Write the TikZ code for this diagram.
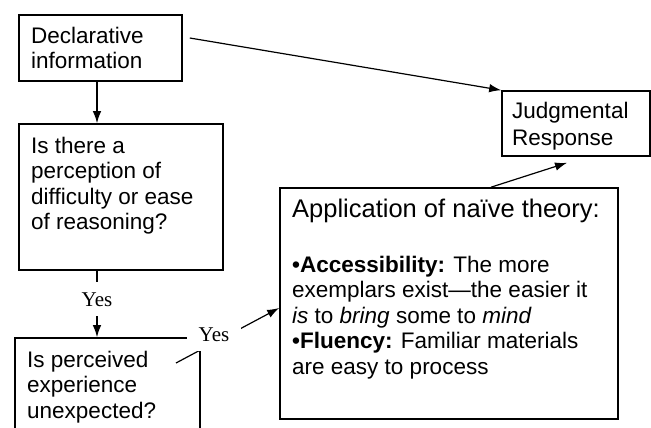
\documentclass[tikz,border=0pt]{standalone}
\usepackage{fontspec}
\setmainfont{Liberation Sans}
\newfontfamily\yesfont{Liberation Serif}
\usetikzlibrary{arrows.meta}
\tikzset{
  box/.style={draw, line width=1.6pt, inner sep=0pt},
  txt/.style={anchor=north west, inner sep=0pt, align=left, font=\fontsize{22.5}{25.5}\selectfont},
  arr/.style={line width=1.2pt, -{Latex[length=12pt,width=8.5pt]}},
  yes/.style={fill=white, font=\yesfont\fontsize{21}{22}\selectfont, text height=14pt, text depth=0pt, inner xsep=12pt, inner ysep=10pt},
}
\begin{document}
\begin{tikzpicture}[x=1pt,y=-1pt]
\clip (0,0) rectangle (651,428);
\fill[white] (0,0) rectangle (651,428);
% boxes
\node[box, minimum width=163pt, minimum height=66pt] (decl) at (100.5,48) {};
\node[box, minimum width=204pt, minimum height=146pt] (q1) at (121,197) {};
\node[box, minimum width=185pt, minimum height=107pt] (q2) at (107.5,391.5) {};
\node[box, minimum width=338pt, minimum height=231pt] (app) at (449,303.5) {};
\node[box, minimum width=148pt, minimum height=65pt] (judg) at (576,123.5) {};
% texts
\node[txt] (decltxt) at (31,23) {\rule{0pt}{20pt}Declarative\\information};
\node[txt] (q1txt) at (31,133) {\rule{0pt}{20pt}Is there a\\perception of\\difficulty or ease\\of reasoning?};
\node[txt] (q2txt) at (27,347) {\rule{0pt}{20pt}Is perceived\\experience\\unexpected?};
\node[txt, font=\fontsize{25.5}{28}\selectfont] (apptitle) at (292,195) {\rule{0pt}{22pt}Application of naïve theory:};
\node[txt] (appbody) at (292,252) {\rule{0pt}{20pt}\textbf{•Accessibility:} The more\\exemplars exist—the easier it\\\textit{is} to \textit{bring} some to \textit{mind}\\\textbf{•Fluency:} Familiar materials\\are easy to process};
\node[txt, font=\fontsize{22.5}{27}\selectfont] (judgtxt) at (512,98) {\rule{0pt}{20pt}Judgmental\\Response};
% connectors
\coordinate (cx) at (97,0);
\coordinate (ys) at (176,363);
\draw[arr] (decl.south -| cx) -- (q1.north -| cx);
\draw[arr] (q1.south -| cx) -- (q2.north -| cx);
\draw[arr] (ys) -- ([yshift=-4.5pt]app.west);
\draw[arr] ([xshift=7pt,yshift=10pt]decl.east) -- (judg.north west);
\draw[arr] ([xshift=42pt]app.north) -- ([xshift=-9pt,yshift=-6pt]judg.south);
% labels
\node[yes] (yes1) at (97,299) {Yes};
\node[yes] (yes2) at (214,334) {Yes};
\end{tikzpicture}
\end{document}
